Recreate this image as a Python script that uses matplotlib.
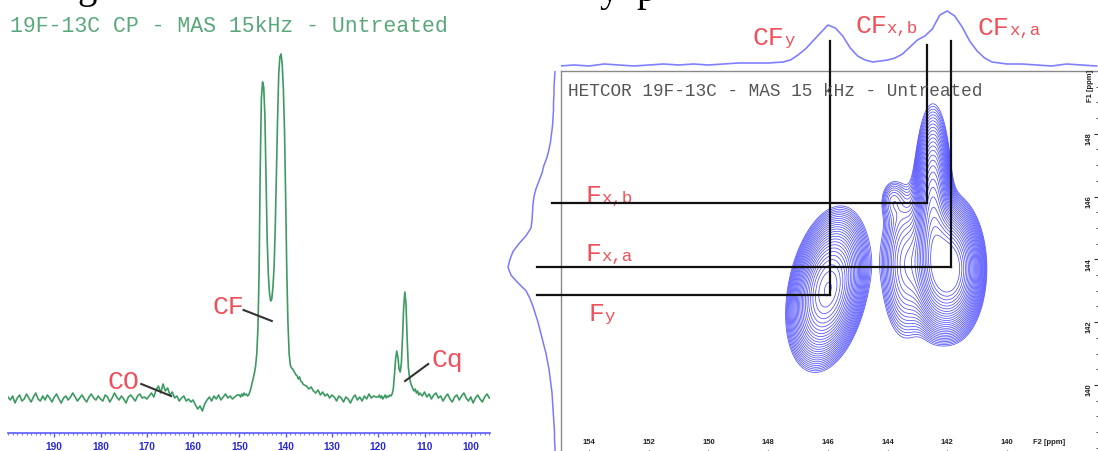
import numpy as np
import matplotlib
matplotlib.use("Agg")
import matplotlib.pyplot as plt
from matplotlib.ticker import FixedLocator, MultipleLocator

# ---------------- 1D 19F-13C CP spectrum (ppm, intensity) ----------------
cp_ppm = np.concatenate([
    np.linspace(200.0, 150.5, 100),
    np.linspace(150.0, 136.25, 56),
    np.linspace(136.0, 120.5, 32),
    np.linspace(120.0, 111.0, 37),
    np.linspace(110.5, 96.0, 30),
])
cp_intensity = [
    # 200 -> 150.5
    2, -1, 3, -4, 1, 4, -2, 0, 5, 1,
    -3, 2, 6, 0, -2, 3, -1, 4, 1, -3,
    2, 5, 0, -4, 1, 3, -1, 2, 6, 2,
    -2, 1, 4, 0, -3, 2, 5, 1, -1, 3,
    0, -2, 4, 2, -3, 1, 6, 2, -1, 3,
    0, -4, 2, 4, 1, -2, 3, 5, 1, 2,
    0, 3, 6, 2, 9, 13, 6, 15, 8, 11,
    4, 7, 1, 3, -2, 1, 3, -2, 0, -3,
    -1, -6, -10, -7, -12, -5, -1, 2, -2, 3,
    0, 4, -1, 2, 5, 1, 3, 0, 2, 4,
    # 150 -> 136.25
    4, 2, 5, 3, 6, 4, 5, 3, 4, 7,
    11, 16, 21, 26, 33, 45, 70, 125, 230, 300,
    317, 312, 285, 220, 160, 125, 106, 98, 100, 112,
    132, 172, 225, 280, 325, 342, 345, 335, 310, 268,
    200, 125, 75, 45, 34, 31, 30, 28, 26, 24,
    23, 20, 22, 18, 17, 15,
    # 136 -> 120.5
    14, 13, 10, 12, 8, 6, 9, 4, 7, 3,
    5, 1, 4, 2, -2, 3, 1, -3, 2, 0,
    -4, 1, 4, -1, 2, -2, 3, 0, 5, 1,
    3, 2,
    # 120 -> 111
    2, 4, 1, 3, 0, 2, 4, 1, 3, 2,
    4, 3, 5, 10, 24, 40, 48, 42, 30, 27,
    36, 62, 92, 107, 95, 60, 32, 22, 16, 13,
    10, 8, 10, 6, 8, 4, 6,
    # 110.5 -> 96
    3, 7, 2, 5, 0, 4, 6, 1, 3, -2,
    2, 5, 0, -3, 2, 4, -1, 3, 6, 1,
    -2, 2, -4, 1, 4, 0, -3, 2, 5, 1,
]
cp_ticks = [190, 180, 170, 160, 150, 140, 130, 120, 110, 100]

# ---------------- HETCOR projections ----------------
f2_proj_ppm = [155.0, 154.5, 154.0, 153.5, 153.0, 152.5, 152.0, 151.5, 151.0, 150.5,
               150.0, 149.5, 149.0, 148.5, 148.0, 147.5, 147.25, 147.0, 146.75, 146.5,
               146.25, 146.0, 145.75, 145.5, 145.25, 145.0, 144.75, 144.5, 144.25, 144.0,
               143.75, 143.5, 143.25, 143.0, 142.75, 142.5, 142.25, 142.0, 141.75, 141.5,
               141.25, 141.0, 140.75, 140.5, 140.0, 139.5, 139.0, 138.5, 138.0, 137.5,
               137.0]
f2_proj = [-1, 0, -1, 1, 0, -1, 0, 1, 0, 1,
           0, 1, 2, 2, 2, 3, 5, 10, 16, 24,
           32, 40, 37, 29, 17, 9, 5, 3, 4, 5,
           7, 11, 18, 25, 29, 36, 50, 54, 49, 38,
           24, 14, 7, 3, 1, 1, 0, -1, 1, 0,
           -1]

f1_proj_ppm = np.linspace(150.0, 137.75, 50)
f1_proj = [0, 0.5, 1, 1, 1.5, 1.5, 2, 2.5, 3.5, 4.5,
           6, 8, 11, 13, 16, 19, 21, 22, 22.5, 23,
           24, 29, 36, 42, 45, 47, 44, 37, 29, 25,
           22, 19.5, 17, 15, 13, 11, 9, 7.5, 6, 5,
           4, 3, 2.5, 2, 1.5, 1, 0.5, 0.5, 0, 0]

# cross-peak assignments (F2 13C ppm, F1 19F ppm)
xpeak_names = ['y', 'x,b', 'x,a']
xpeak_f2 = [145.93, 142.68, 141.87]
xpeak_f1 = [142.87, 145.80, 143.76]

# 2D contour components: centre (F2, F1), widths, amplitude, skew
comp_f2 = [146.0, 142.48, 141.95, 143.4, 143.85]
comp_f1 = [143.05, 145.5, 143.7, 143.85, 145.9]
comp_w2 = [0.55, 0.30, 0.50, 0.45, 0.25]
comp_w1 = [1.08, 1.55, 0.95, 1.30, 0.40]
comp_amp = [1.02, 0.60, 1.30, 0.25, 0.08]
comp_skew = [-0.16, 0.0, 0.0, 0.0, 0.0]

f2_ticks = [154, 152, 150, 148, 146, 144, 142, 140]
f1_ticks = [148, 146, 144, 142, 140]

# ---------------- styling ----------------
MONO = 'Liberation Mono'
SANS = 'Liberation Sans'
SERIF = 'Liberation Serif'
RED = '#f0505a'
W, H = 1098, 452

fig = plt.figure(figsize=(W / 100, H / 100), dpi=100)
fig.patch.set_facecolor('white')


def rect(x0, y0, x1, y1):
    return [x0 / W, 1 - y1 / H, (x1 - x0) / W, (y1 - y0) / H]


# running text of the page above the figure (only its descenders show)
fig.text(77 / W, 1 + 2 / H, 'g', family=SERIF, fontsize=28, color='black',
         ha='left', va='baseline')
fig.text(600 / W, 1 - 1 / H, 'y', family=SERIF, fontsize=28, color='black',
         ha='left', va='baseline')
fig.text(636 / W, 1 - 1 / H, 'p', family=SERIF, fontsize=28, color='black',
         ha='left', va='baseline')

# ---------- left: 1D spectrum ----------
ax1 = fig.add_axes(rect(8, 40, 490, 434))
ax1.plot(cp_ppm, cp_intensity, color='#3d9a62', lw=1.2)
ax1.set_xlim(200.0, 95.85)
ax1.set_ylim(-34, 360)
for s in ('top', 'left', 'right'):
    ax1.spines[s].set_visible(False)
ax1.spines['bottom'].set_color('#5a5aff')
ax1.spines['bottom'].set_linewidth(1.2)
ax1.set_yticks([])
ax1.xaxis.set_major_locator(FixedLocator(cp_ticks))
ax1.xaxis.set_minor_locator(MultipleLocator(1))
ax1.tick_params(axis='x', which='major', length=3, width=1, color='#5a5aff',
                pad=3, labelsize=7.3, labelcolor='#2a2ad8')
ax1.tick_params(axis='x', which='minor', length=1.6, width=0.8, color='#7a7aff')
for t in ax1.get_xticklabels():
    t.set_fontweight('bold')
    t.set_family(SANS)

fig.text(10 / W, 1 - 26 / H, '19F-13C CP - MAS 15kHz - Untreated', family=MONO,
         fontsize=15.5, color='#5aa87a', ha='left', va='center')

# annotation leaders and labels
ax1.plot([171.2, 164.75], [15, 3], color='#333333', lw=1.5)
ax1.plot([149.1, 143.0], [89, 78], color='#333333', lw=1.5)
ax1.plot([114.2, 109.2], [18, 35], color='#333333', lw=1.5)
ax1.text(178.6, 11, 'CO', family=MONO, fontsize=19, color=RED, ha='left', va='baseline')
ax1.text(155.9, 86, 'CF', family=MONO, fontsize=19, color=RED, ha='left', va='baseline')
ax1.text(108.4, 33, 'Cq', family=MONO, fontsize=19, color=RED, ha='left', va='baseline')

# ---------- right: HETCOR ----------
XL = (154.94, 136.95)
YL = (137.80, 150.0)

ax2 = fig.add_axes(rect(561, 72, 1098, 455))
f2 = np.linspace(150.0, 138.0, 400)
f1 = np.linspace(137.8, 150.0, 400)
G2, G1 = np.meshgrid(f2, f1)
Z = np.zeros_like(G2)
for c2, c1, w2, w1, a, k in zip(comp_f2, comp_f1, comp_w2, comp_w1, comp_amp, comp_skew):
    d1 = G1 - c1
    d2 = G2 - c2 - k * d1
    Z += a * np.exp(-0.5 * ((d2 / w2) ** 2 + (d1 / w1) ** 2))
levels = np.geomspace(0.05, 1.0, 26)
ax2.contour(G2, G1, Z, levels=levels, colors='#3030ff', linewidths=0.55, alpha=0.85)
ax2.set_xlim(*XL)
ax2.set_ylim(*YL)
for s in ('top', 'left', 'bottom'):
    ax2.spines[s].set_color('#8a8a8a')
    ax2.spines[s].set_linewidth(1.0)
ax2.spines['right'].set_visible(False)
ax2.xaxis.set_major_locator(FixedLocator(f2_ticks))
ax2.xaxis.set_minor_locator(MultipleLocator(0.5))
ax2.yaxis.set_major_locator(FixedLocator(f1_ticks))
ax2.yaxis.set_minor_locator(MultipleLocator(0.5))
ax2.tick_params(axis='x', which='both', direction='in', bottom=True, top=False,
                color='#333333', labelsize=5.5, labelcolor='#222222')
ax2.tick_params(axis='x', which='major', length=3, pad=-11.5)
ax2.tick_params(axis='x', which='minor', length=1.5)
ax2.tick_params(axis='y', which='both', direction='in', left=False, right=True,
                labelleft=False, labelright=True, color='#333333',
                labelsize=5.5, labelcolor='#222222')
ax2.tick_params(axis='y', which='major', length=3, pad=-9)
ax2.tick_params(axis='y', which='minor', length=1.5)
for t in ax2.get_xticklabels():
    t.set_fontweight('bold')
    t.set_family(SANS)
for t in ax2.get_yticklabels():
    t.set_fontweight('bold')
    t.set_family(SANS)
    t.set_rotation(90)

fig.text(1033 / W, 1 - 443 / H, 'F2 [ppm]', family=SANS, fontweight='bold',
         fontsize=5.5, color='#222222', ha='left', va='center')
fig.text(1090 / W, 1 - 86 / H, 'F1 [ppm]', family=SANS, fontweight='bold',
         fontsize=5.5, color='#222222', ha='center', va='center', rotation=90)
fig.text(568 / W, 1 - 91 / H, 'HETCOR 19F-13C - MAS 15 kHz - Untreated', family=MONO,
         fontsize=12.8, color='#555555', ha='left', va='center')

# F2 projection on top
axt = fig.add_axes(rect(561, 0, 1098, 72))
axt.plot(f2_proj_ppm, f2_proj, color='#8080ff', lw=1.2)
axt.set_xlim(*XL)
axt.set_ylim(-6, 66)
axt.axis('off')

# F1 projection on the left
axl = fig.add_axes(rect(495, 72, 561, 455))
axl.plot(f1_proj, f1_proj_ppm, color='#7a7aff', lw=1.1)
axl.set_xlim(60, -6)
axl.set_ylim(*YL)
axl.axis('off')

# correlation guide lines
top_f1 = [150.96, 150.83, 150.96]
left_f2 = [155.74, 155.24, 155.74]
for x, y, yt, xl in zip(xpeak_f2, xpeak_f1, top_f1, left_f2):
    ax2.plot([x, x], [yt, y], color='#111111', lw=1.6, clip_on=False, zorder=5)
    ax2.plot([xl, x], [y, y], color='#111111', lw=1.6, clip_on=False, zorder=5)


def split_label(ax, x, y, big, small, big_size, small_size):
    ax.text(x, y, big, family=MONO, fontsize=big_size, color=RED,
            ha='left', va='baseline', clip_on=False)
    ax.annotate(small, (x, y), xytext=(0.6 * big_size * len(big), 0),
                textcoords='offset points', family=MONO, fontsize=small_size,
                color=RED, ha='left', va='baseline', annotation_clip=False)


# carbon labels above the F2 projection
split_label(axt, 148.51, 21, 'CF', xpeak_names[0], 19, 12.5)
split_label(axt, 145.09, 33, 'CF', xpeak_names[1], 19, 12.5)
split_label(axt, 141.00, 31, 'CF', xpeak_names[2], 19, 12.5)

# fluorine labels beside the horizontal guides
split_label(ax2, 154.13, 145.83, 'F', xpeak_names[1], 19, 12.5)
split_label(ax2, 154.13, 143.98, 'F', xpeak_names[2], 19, 12.5)
split_label(ax2, 154.03, 142.07, 'F', xpeak_names[0], 19, 12.5)

fig.savefig('out.png', dpi=100, facecolor='white')
